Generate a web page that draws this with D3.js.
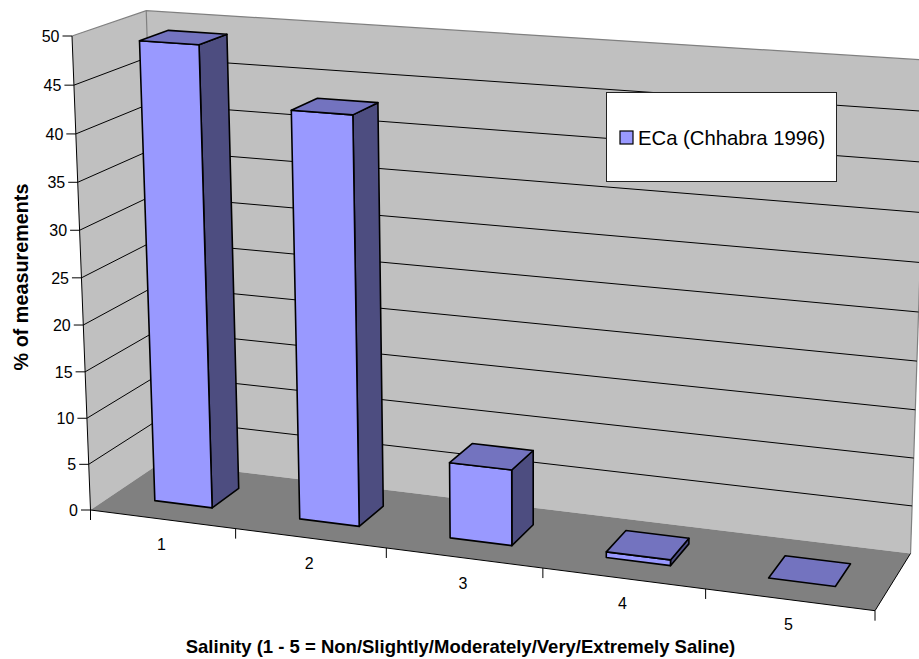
<!DOCTYPE html>
<html>
<head>
<meta charset="utf-8">
<script src="https://cdn.jsdelivr.net/npm/d3@7/dist/d3.min.js"></script>
<style>
  html, body { margin: 0; padding: 0; background: #fff; }
  svg { display: block; }
  text { font-family: "Liberation Sans", Arial, sans-serif; fill: #000; }
</style>
</head>
<body>
<svg id="chart" width="919" height="659"></svg>
<script>
const categories = ["1", "2", "3", "4", "5"];
const ecaValues = [49, 43, 8, 0.6, 0];
const valueTicks = [0, 5, 10, 15, 20, 25, 30, 35, 40, 45, 50];
const seriesName = "ECa (Chhabra 1996)";
const xTitle = "Salinity (1 - 5 = Non/Slightly/Moderately/Very/Extremely Saline)";
const yTitle = "% of measurements";

const svg = d3.select("#chart");

// Scales map data into a unit box: x across, y into depth, z upward.
const xBand = d3.scaleBand().domain(categories).range([0, 1]).paddingInner(0.6).paddingOuter(0.3);
const zScale = d3.scaleLinear().domain([0, 50]).range([0, 1]);
const depthFront = 0.3, depthBack = 0.7;

// Perspective camera: the box's corners on screen plus the
// foreshortening along each of the three axes.
const cam = {
  origin: [90.5, 510], xEnd: [875, 610.7], yEnd: [161, 462.6], zEnd: [72, 36],
  p: -0.092, q: 0.051, r: -0.04
};
const axisVec = (end, k) => [end[0] * (1 + k) - cam.origin[0], end[1] * (1 + k) - cam.origin[1]];
const U = axisVec(cam.xEnd, cam.p), V = axisVec(cam.yEnd, cam.q), W = axisVec(cam.zEnd, cam.r);
function project(x, y, z) {
  const d = 1 + cam.p * x + cam.q * y + cam.r * z;
  return [
    (cam.origin[0] + x * U[0] + y * V[0] + z * W[0]) / d,
    (cam.origin[1] + x * U[1] + y * V[1] + z * W[1]) / d
  ];
}

const path = d3.line().curve(d3.curveLinearClosed);
const open = d3.line();
function face(pts, fill, stroke, sw) {
  svg.append("path").attr("d", path(pts.map(p => project(...p))))
    .attr("fill", fill).attr("stroke", stroke || "none").attr("stroke-width", sw || 0)
    .attr("stroke-linejoin", "round");
}
function segs(pts, stroke, sw) {
  svg.append("path").attr("d", open(pts)).attr("fill", "none")
    .attr("stroke", stroke).attr("stroke-width", sw);
}

// Walls and floor
face([[0,1,0],[1,1,0],[1,1,1],[0,1,1]], "#C0C0C0");
face([[0,0,0],[0,1,0],[0,1,1],[0,0,1]], "#C0C0C0");
face([[0,0,0],[1,0,0],[1,1,0],[0,1,0]], "#808080");

// Upper and rear wall edges
segs([project(0,0,1), project(0,1,1), project(1,1,1)], "#808080", 1.2);
segs([project(0,1,0), project(0,1,1)], "#808080", 1.2);
segs([project(1,1,0), project(1,1,1)], "#808080", 1.2);

// Horizontal gridlines along both walls
valueTicks.filter(v => v > 0 && v < 50).forEach(v => {
  const z = zScale(v);
  segs([project(0,0,z), project(0,1,z), project(1,1,z)], "#000", 1);
});

// Value axis with ticks and labels
segs([project(0,0,0), project(0,0,1)], "#000", 1);
valueTicks.forEach(v => {
  const [px, py] = project(0, 0, zScale(v));
  segs([[px - 9.5, py], [px, py]], "#000", 1);
  svg.append("text").attr("x", px - 12.5).attr("y", py).attr("dy", "0.36em")
    .attr("text-anchor", "end").attr("font-size", 16).text(v);
});

// Category axis: front floor edge, right floor edge, boundary ticks
segs([project(0,0,0), project(1,0,0), project(1,1,0)], "#000", 1);
d3.range(categories.length + 1).forEach(i => {
  const [px, py] = project(i / categories.length, 0, 0);
  segs([[px, py], [px, py + 10]], "#000", 1);
});
categories.forEach(c => {
  const [px, py] = project(xBand(c) + xBand.bandwidth() / 2, 0, 0);
  svg.append("text").attr("x", px - 1).attr("y", py + 25).attr("dy", "0.36em")
    .attr("text-anchor", "middle").attr("font-size", 16).text(c);
});

// Columns
const frontFill = "#9999FF", topFill = "#7373BF", sideFill = "#4D4D80";
categories.forEach((c, i) => {
  const x0 = xBand(c), x1 = x0 + xBand.bandwidth(), z = zScale(ecaValues[i]);
  const y0 = depthFront, y1 = depthBack;
  if (z > 0) {
    face([[x1,y0,0],[x1,y1,0],[x1,y1,z],[x1,y0,z]], sideFill, "#000", 1.6);
    face([[x0,y0,0],[x1,y0,0],[x1,y0,z],[x0,y0,z]], frontFill, "#000", 1.6);
  }
  face([[x0,y0,z],[x1,y0,z],[x1,y1,z],[x0,y1,z]], topFill, "#000", 1.6);
});

// Legend
const legend = svg.append("g");
legend.append("rect").attr("x", 606.5).attr("y", 92.5).attr("width", 230).attr("height", 89)
  .attr("fill", "#fff").attr("stroke", "#222").attr("stroke-width", 1);
legend.append("rect").attr("x", 620).attr("y", 131).attr("width", 13).attr("height", 13)
  .attr("fill", frontFill).attr("stroke", "#000").attr("stroke-width", 1.2);
legend.append("text").attr("x", 638).attr("y", 145).attr("font-size", 20.3).text(seriesName);

// Axis titles
svg.append("text").attr("x", 460.5).attr("y", 653).attr("text-anchor", "middle")
  .attr("font-size", 18.5).attr("font-weight", "bold").text(xTitle);
svg.append("text").attr("transform", "translate(27.5,277) rotate(-90)").attr("text-anchor", "middle")
  .attr("font-size", 19.8).attr("font-weight", "bold").text(yTitle);
</script>
</body>
</html>
